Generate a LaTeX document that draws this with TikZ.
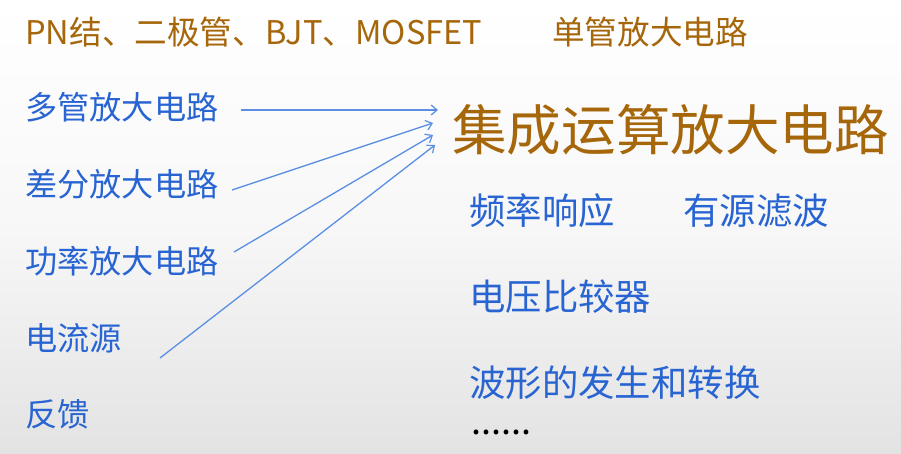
\documentclass[tikz,border=0pt]{standalone}
\usepackage{fontspec}
\setmainfont{Noto Sans CJK SC}
\usetikzlibrary{arrows.meta}
\definecolor{brown1}{RGB}{166,102,10}
\definecolor{blue1}{RGB}{40,100,210}
\definecolor{arrowblue}{RGB}{90,143,227}
\tikzset{
  brownsm/.style={text=brown1,anchor=west,inner sep=0pt,font=\fontsize{32.6}{32.6}\selectfont},
  brownbig/.style={text=brown1,anchor=west,inner sep=0pt,font=\fontsize{54.6}{54.6}\selectfont},
  leftitem/.style={text=blue1,anchor=west,inner sep=0pt,font=\fontsize{32.2}{32.2}\selectfont},
  rightitem/.style={text=blue1,anchor=west,inner sep=0pt,font=\fontsize{36.4}{36.4}\selectfont},
  conn/.style={draw=arrowblue,line width=1.3pt,-{Straight Barb[length=6pt,width=10pt,line width=1.2pt]}}
}
\begin{document}
\begin{tikzpicture}[x=1pt,y=-1pt]
\useasboundingbox (0,0) rectangle (901,454);
\shade[top color=white,bottom color=black!11,middle color=black!3] (0,0) rectangle (901,454);
\node[brownsm] (pn) at (25,32) {PN结、二极管、BJT、MOSFET};
\node[brownsm] (single) at (552,32) {单管放大电路};
\node[brownbig] (ic) at (452,130) {集成运算放大电路};
\node[leftitem] (multi) at (25,107) {多管放大电路};
\node[leftitem] (diff) at (25,184) {差分放大电路};
\node[leftitem] (power) at (25,261) {功率放大电路};
\node[leftitem] (cs) at (25,338) {电流源};
\node[leftitem] (fb) at (25,414) {反馈};
\node[rightitem] (freq) at (469,211) {频率响应};
\node[rightitem] (filt) at (683,211) {有源滤波};
\node[rightitem] (comp) at (469,297) {电压比较器};
\node[rightitem] (wave) at (469,383) {波形的发生和转换};
\node[anchor=west,inner sep=0pt,font=\fontsize{36}{36}\selectfont] (dots) at (471,432) {......};
\coordinate (s1) at (241,110);
\coordinate (e1) at (438,110);
\coordinate (s2) at (232,190);
\coordinate (e2) at (433,123);
\coordinate (s3) at (234,252);
\coordinate (e3) at (433,135);
\coordinate (s4) at (160,358);
\coordinate (e4) at (435,145);
\draw[conn] (s1) -- (e1);
\draw[conn] (s2) -- (e2);
\draw[conn] (s3) -- (e3);
\draw[conn] (s4) -- (e4);
\end{tikzpicture}
\end{document}
